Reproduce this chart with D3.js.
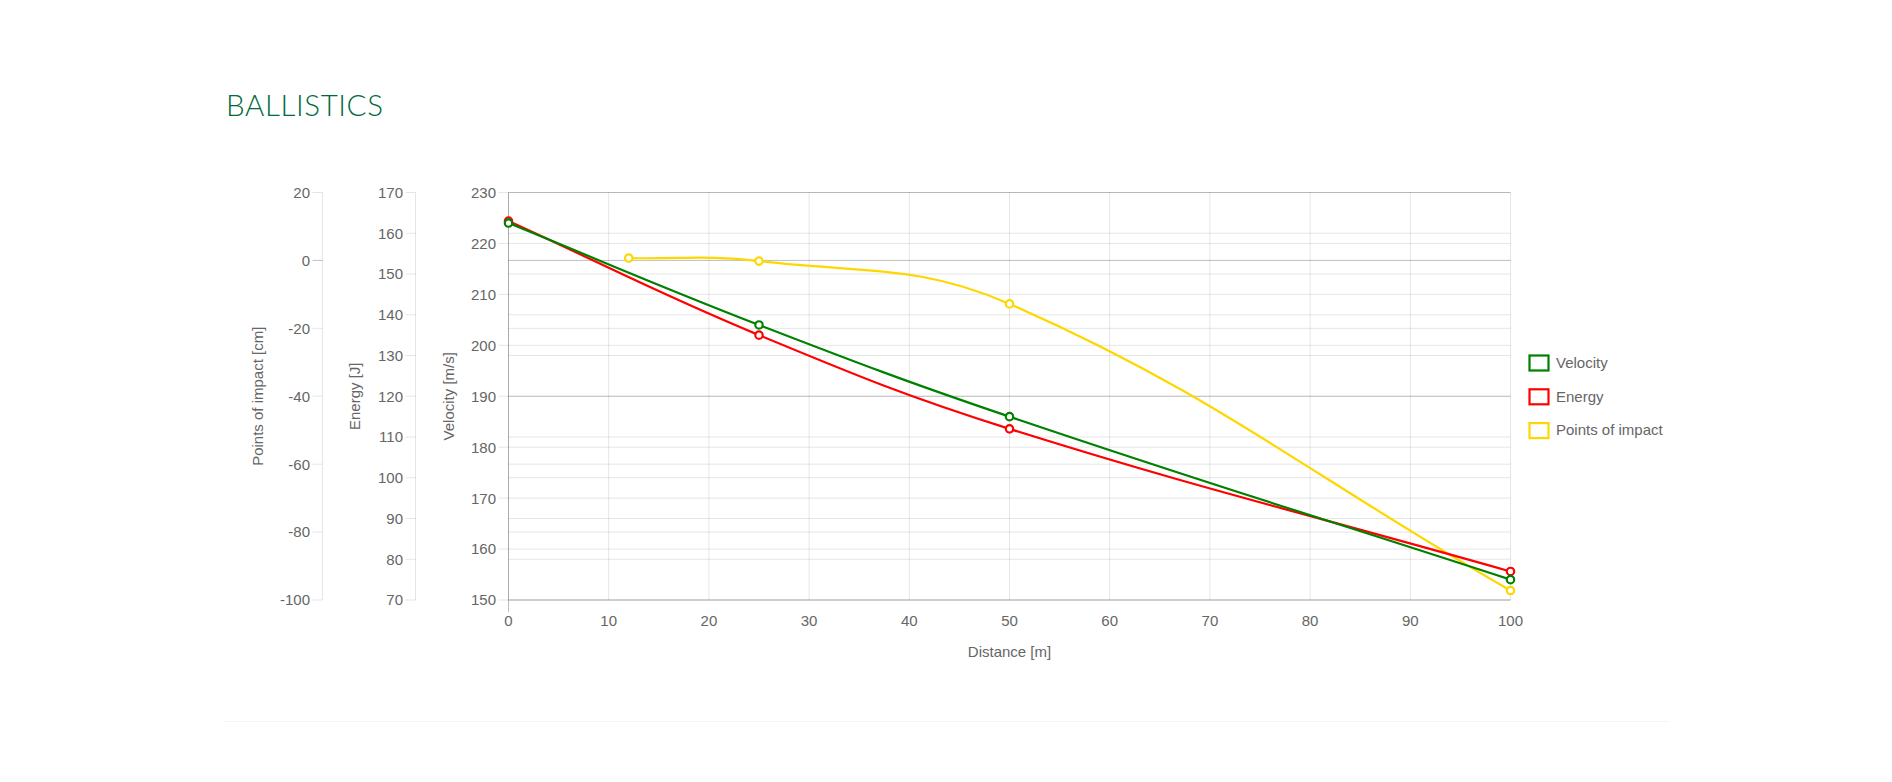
<!DOCTYPE html>
<html>
<head>
<meta charset="utf-8">
<script src="https://cdn.jsdelivr.net/npm/d3@7"></script>
<style>
  html, body { margin: 0; padding: 0; background: #fff; }
  svg { display: block; }
</style>
</head>
<body>
<svg id="chart" width="1892" height="782"></svg>
<script>
// ---------- data ----------
const distances = [0, 25, 50, 100];
const velocity = [224, 204, 186, 154];          // m/s
const energy = [163, 135, 112, 77];             // J
const impactDistances = [12, 25, 50, 100];
const impact = [0.7, -0.2, -12.8, -97.2];       // cm

const xTicks = [0, 10, 20, 30, 40, 50, 60, 70, 80, 90, 100];
const velocityTicks = [150, 160, 170, 180, 190, 200, 210, 220, 230];
const energyTicks = [70, 80, 90, 100, 110, 120, 130, 140, 150, 160, 170];
const impactTicks = [-100, -80, -60, -40, -20, 0, 20];

const seriesNames = ["Velocity", "Energy", "Points of impact"];
const seriesColors = ["#008000", "#ff0000", "#ffd700"];

// ---------- layout ----------
const L = 508.5, R = 1510.5, T = 192.5, B = 600;
const axisX = { impact: 322.5, energy: 415.5, velocity: 508.5 };
const FONT = "'Liberation Sans', Arial, Helvetica, sans-serif";
const GRID = "rgba(0,0,0,0.1)";
const ZERO = "rgba(0,0,0,0.25)";

const svg = d3.select("#chart");

const x = d3.scaleLinear().domain([0, 100]).range([L, R]);
const yV = d3.scaleLinear().domain([150, 230]).range([B, T]);
const yE = d3.scaleLinear().domain([70, 170]).range([B, T]);
const yP = d3.scaleLinear().domain([-100, 20]).range([B, T]);

// Title
svg.append("text")
  .attr("x", 226).attr("y", 116)
  .attr("font-family", "Lato, 'Open Sans', sans-serif")
  .attr("font-size", 29.5).attr("font-weight", 300)
  .attr("letter-spacing", 0.6)
  .attr("fill", "#00693e")
  .text("BALLISTICS");

// bottom separator
svg.append("line")
  .attr("x1", 224).attr("x2", 1669).attr("y1", 721.5).attr("y2", 721.5)
  .attr("stroke", "#f3f3f3").attr("stroke-width", 1);

const grid = svg.append("g").attr("fill", "none");

// vertical gridlines (x axis)
xTicks.forEach(t => {
  grid.append("line")
    .attr("x1", x(t)).attr("x2", x(t))
    .attr("y1", T).attr("y2", t === 0 ? B + 12 : B)
    .attr("stroke", t === 0 ? ZERO : GRID).attr("stroke-width", 1);
});
// x axis border
grid.append("line").attr("x1", L).attr("x2", R).attr("y1", B).attr("y2", B)
  .attr("stroke", GRID);

// y axes: borders, tick marks, gridlines, labels
function yAxis(scale, ticks, ax, title, titleX) {
  const g = svg.append("g");
  g.append("line").attr("x1", ax).attr("x2", ax).attr("y1", T).attr("y2", B)
    .attr("stroke", GRID);
  ticks.forEach(t => {
    const py = scale(t);
    const c = t === 0 ? ZERO : GRID;
    g.append("line").attr("x1", ax - 10).attr("x2", ax).attr("y1", py).attr("y2", py)
      .attr("stroke", c);
    g.append("line").attr("x1", L).attr("x2", R).attr("y1", py).attr("y2", py)
      .attr("stroke", c);
    g.append("text")
      .attr("x", ax - 12.5).attr("y", py + 5.4)
      .attr("text-anchor", "end")
      .attr("font-family", FONT).attr("font-size", 15).attr("fill", "#666")
      .text(t);
  });
  g.append("text")
    .attr("transform", `translate(${titleX},${(T + B) / 2}) rotate(-90)`)
    .attr("text-anchor", "middle")
    .attr("font-family", FONT).attr("font-size", 15).attr("fill", "#666")
    .text(title);
}
yAxis(yP, impactTicks, axisX.impact, "Points of impact [cm]", 262.5);
yAxis(yE, energyTicks, axisX.energy, "Energy [J]", 360);
yAxis(yV, velocityTicks, axisX.velocity, "Velocity [m/s]", 454);

// x tick labels
xTicks.forEach(t => {
  svg.append("text")
    .attr("x", x(t)).attr("y", 626)
    .attr("text-anchor", "middle")
    .attr("font-family", FONT).attr("font-size", 15).attr("fill", "#666")
    .text(t);
});
svg.append("text")
  .attr("x", (L + R) / 2).attr("y", 656.5)
  .attr("text-anchor", "middle")
  .attr("font-family", FONT).attr("font-size", 15).attr("fill", "#666")
  .text("Distance [m]");

// Chart.js-like spline curve (tension 0.4)
function splineCurve(tension) {
  return function (context) {
    let pts = [];
    return {
      areaStart() {}, areaEnd() {},
      lineStart() { pts = []; },
      point(px, py) { pts.push([+px, +py]); },
      lineEnd() {
        const n = pts.length;
        if (!n) return;
        const cps = pts.map((p, i) => {
          const prev = pts[i - 1] || p, next = pts[i + 1] || p;
          const d01 = Math.hypot(p[0] - prev[0], p[1] - prev[1]);
          const d12 = Math.hypot(next[0] - p[0], next[1] - p[1]);
          let s01 = d01 / (d01 + d12), s12 = d12 / (d01 + d12);
          if (isNaN(s01)) s01 = 0;
          if (isNaN(s12)) s12 = 0;
          const fa = tension * s01, fb = tension * s12;
          const clampX = v => Math.max(L, Math.min(R, v));
          const clampY = v => Math.max(T, Math.min(B, v));
          return {
            prev: [clampX(p[0] - fa * (next[0] - prev[0])), clampY(p[1] - fa * (next[1] - prev[1]))],
            next: [clampX(p[0] + fb * (next[0] - prev[0])), clampY(p[1] + fb * (next[1] - prev[1]))]
          };
        });
        context.moveTo(pts[0][0], pts[0][1]);
        for (let i = 1; i < n; i++) {
          context.bezierCurveTo(cps[i - 1].next[0], cps[i - 1].next[1],
            cps[i].prev[0], cps[i].prev[1], pts[i][0], pts[i][1]);
        }
      }
    };
  };
}

const datasets = [
  { xs: distances, ys: velocity, scale: yV, color: seriesColors[0] },
  { xs: distances, ys: energy, scale: yE, color: seriesColors[1] },
  { xs: impactDistances, ys: impact, scale: yP, color: seriesColors[2] }
];

// draw last dataset first so Velocity ends on top
datasets.slice().reverse().forEach(ds => {
  const data = ds.xs.map((d, i) => [d, ds.ys[i]]);
  const line = d3.line()
    .x(d => x(d[0])).y(d => ds.scale(d[1]))
    .curve(splineCurve(0.4));
  const g = svg.append("g");
  g.append("path").datum(data).attr("d", line)
    .attr("fill", "none").attr("stroke", ds.color).attr("stroke-width", 2.2);
  g.selectAll("circle").data(data).join("circle")
    .attr("cx", d => x(d[0])).attr("cy", d => ds.scale(d[1]))
    .attr("r", 3.7).attr("fill", "#fff")
    .attr("stroke", ds.color).attr("stroke-width", 2.2);
});

// legend
const legend = svg.append("g");
seriesNames.forEach((name, i) => {
  const cy = 363 + i * 33.8;
  legend.append("rect")
    .attr("x", 1529.5).attr("y", cy - 7.5).attr("width", 19).attr("height", 15)
    .attr("fill", "#fff").attr("stroke", seriesColors[i]).attr("stroke-width", 2.2);
  legend.append("text")
    .attr("x", 1556).attr("y", cy + 4.8)
    .attr("font-family", FONT).attr("font-size", 15).attr("fill", "#666")
    .text(name);
});
</script>
</body>
</html>
